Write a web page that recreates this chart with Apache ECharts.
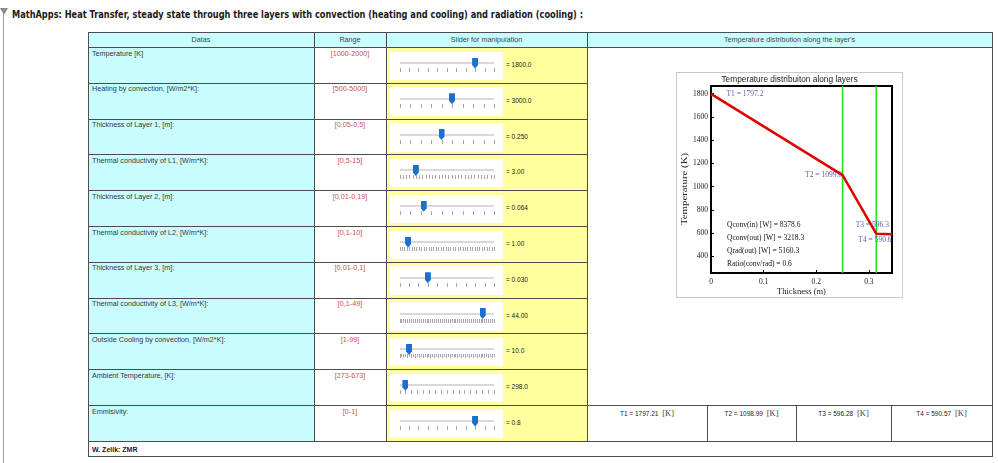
<!DOCTYPE html>
<html><head><meta charset="utf-8">
<script src="https://cdn.jsdelivr.net/npm/echarts@6/dist/echarts.min.js"></script>
<style>
html,body{margin:0;padding:0;}
body{width:998px;height:463px;overflow:hidden;background:#fff;position:relative;font-family:"Liberation Sans",Arial,sans-serif;}
.a{position:absolute;}
.t{position:absolute;white-space:nowrap;line-height:1;font-size:7px;color:#333;}
</style></head><body>
<div id="table" class="a" style="left:0;top:0;width:998px;height:463px"></div>
<div id="chartBox" class="a" style="left:676px;top:72px;width:227px;height:226px;border:1px solid #c8c8c8;box-sizing:border-box;background:#fff"></div>
<div id="chart" class="a" style="left:676px;top:72px;width:227px;height:226px"></div>
<script>
// ---------- data ----------
const pageTitle = "MathApps: Heat Transfer, steady state through three layers with convection (heating and cooling) and radiation (cooling) :";
const headers = ["Datas", "Range", "Slider for manipulation", "Temperature distribution along the layer's"];
const rowLabels = ["Temperature [K]", "Heating by convection, [W/m2*K]:", "Thickness of Layer 1, [m]:", "Thermal conductivity of L1, [W/m*K]:", "Thickness of Layer 2, [m]:", "Thermal conductivity of L2, [W/m*K]:", "Thickness of Layer 3, [m]:", "Thermal conductivity of L3, [W/m*K]:", "Outside Cooling by convection, [W/m2*K]:", "Ambient Temperature, [K]:", "Emmisivity:"];
const rowRanges = ["[1000-2000]", "[500-5000]", "[0.05-0,5]", "[0,5-15]", "[0,01-0,19]", "[0,1-10]", "[0,01-0,1]", "[0,1-49]", "[1-99]", "[273-673]", "[0-1]"];
const sliderMin = [1000, 500, 0.05, 0.5, 0, 0.1, 0, 0, 0, 273, 0];
const sliderMax = [2000, 5000, 0.5, 15, 0.25, 10, 0.1, 50, 99, 673, 1];
const sliderValue = [1800, 3000, 0.25, 3.0, 0.064, 1.0, 0.03, 44, 10, 298, 0.8];
const sliderText = ["= 1800.0", "= 3000.0", "= 0.250", "= 3.00", "= 0.064", "= 1.00", "= 0.030", "= 44.00", "= 10.0", "= 298.0", "= 0.8"];
const sliderTicks = [11, 10, 10, 30, 10, 40, 11, 50, 50, 17, 11];
const sliderMinorAlt = [false, false, false, false, false, false, false, false, true, false, false];
const resultText = ["T1 = 1797.21", "T2 = 1098.99", "T3 = 596.28", "T4 = 590.57"];
const footerText = "W. Zelik: ZMR";

const chartTitle = "Temperature distribuiton along layers";
const thickness = [0, 0.25, 0.314, 0.344];
const temps = [1797.2, 1099.0, 596.3, 590.6];
const layerBounds = [0.25, 0.314];
const pointLabels = ["T1 = 1797.2", "T2 = 1099.0", "T3 = 596.3", "T4 = 590.6"];
const xTicks = [0, 0.1, 0.2, 0.3];
const yTicks = [400, 600, 800, 1000, 1200, 1400, 1600, 1800];
const xMin = 0, xMax = 0.344, yMin = 258, yMax = 1865;
const qLines = ["Qconv(in) [W] = 8378.6", "Qconv(out) [W] = 3218.3", "Qrad(out) [W] = 5160.3", "Ratio(conv/rad) = 0.6"];

// ---------- table (HTML) ----------
const host = document.getElementById('table');
function div(x, y, w, h, css) {
  const d = document.createElement('div'); d.className = 'a';
  d.style.cssText = `left:${x}px;top:${y}px;width:${w}px;height:${h}px;` + (css || '');
  host.appendChild(d); return d;
}
function txt(x, y, s, css, anchor) {
  const d = document.createElement('div'); d.className = 't'; d.textContent = s;
  d.style.cssText += `left:${x}px;top:${y}px;` + (css || '');
  d.style.transform = anchor === 'c' ? 'translate(-50%,-50%)' : 'translateY(-50%)';
  host.appendChild(d); return d;
}
const L = 88, R = 992, T0 = 32, H0 = 47, RH = 35.8, N = rowLabels.length;
const RB = H0 + N * RH, FB = 456;
const cols = [88, 314, 386, 587, 992];
const rowTop = i => H0 + i * RH;
const lc = '#4d4d4d';

// left marker
div(2.5, 14, 1.5, 449, 'background:#a0a0a0');
div(0, 8, 0, 0, 'border-left:4px solid transparent;border-right:4px solid transparent;border-top:7px solid #8a8a8a;');
const tt = txt(12, 13.5, pageTitle, 'font-family:"DejaVu Sans",sans-serif;font-weight:bold;font-size:10.5px;color:#1a1a1a;');

// backgrounds
div(L, T0, R - L, H0 - T0, 'background:#c8fcff');
div(cols[0], H0, cols[1] - cols[0], RB - H0, 'background:#c8fcff');
div(cols[2], H0, cols[3] - cols[2], RB - H0, 'background:#ffff9e');

// lines
function hl(y, x1, x2) { div(x1, y, x2 - x1 + 1, 1, 'background:' + lc); }
function vl(x, y1, y2) { div(x, y1, 1, y2 - y1 + 1, 'background:' + lc); }
hl(T0, L, R); hl(H0, L, R);
for (let i = 1; i < N; i++) hl(rowTop(i), L, i === N - 1 ? R : cols[3]);
hl(RB, L, R); hl(FB, L, R);
vl(L, T0, FB); vl(R, T0, FB);
vl(cols[1], T0, RB); vl(cols[2], T0, RB); vl(cols[3], T0, RB);
const tCols = [587, 707, 796, 891, 992];
for (let k = 1; k < 4; k++) vl(tCols[k], rowTop(N - 1), RB);

// headers
const hc = [(cols[0] + cols[1]) / 2, (cols[1] + cols[2]) / 2, (cols[2] + cols[3]) / 2, (cols[3] + cols[4]) / 2];
headers.forEach((h, i) => txt(hc[i], 39.5, h, 'font-size:7.2px;color:#444;', 'c'));

// rows
const trackL = 399.5, trackR = 494;
for (let i = 0; i < N; i++) {
  const y = rowTop(i);
  txt(92, y + 6.5, rowLabels[i], 'font-size:7.2px;color:#383838;');
  txt(hc[1], y + 6.5, rowRanges[i], 'font-size:7.2px;color:#c85050;', 'c');
  div(390, y + 4.5, 113, 28.5, 'background:#fff');
  div(trackL, y + 15, trackR - trackL, 2, 'background:#d9d9d9');
  const n = sliderTicks[i];
  for (let k = 0; k < n; k++) {
    const x = trackL + k * (trackR - trackL) / (n - 1);
    const h = (sliderMinorAlt[i] && k % 2) ? 2.5 : 4;
    div(x, y + 21, 0.8, h, 'background:#a8a8a8');
  }
  const frac = (sliderValue[i] - sliderMin[i]) / (sliderMax[i] - sliderMin[i]);
  const cx = trackL + frac * (trackR - trackL);
  div(cx - 3, y + 10.5, 6, 11, 'background:#1b6fcf;clip-path:polygon(0 0,100% 0,100% 68%,50% 100%,0 68%);');
  txt(506, y + 18, sliderText[i], 'font-size:6.5px;color:#222;');
}
// results row
const yr = rowTop(N - 1);
resultText.forEach((s, k) => {
  const d = txt((tCols[k] + tCols[k + 1]) / 2, yr + 8, '', 'font-size:6.5px;color:#222;', 'c');
  const a = document.createElement('span'); a.textContent = s + ' ';
  const b = document.createElement('span'); b.textContent = '[K]'; b.style.cssText = 'font-size:8.5px;font-family:"Liberation Serif",serif;margin-left:2px;color:#444';
  d.appendChild(a); d.appendChild(b);
});
txt(92, (RB + FB) / 2 + 0.5, footerText, 'font-weight:bold;font-size:7px;color:#222;');

// fit title width
(function () {
  const w = tt.getBoundingClientRect().width;
  const target = 571;
  tt.style.transformOrigin = '0 50%';
  tt.style.transform = `translateY(-50%) scaleX(${target / w})`;
})();

// ---------- chart (ECharts) ----------
const serif = '"Liberation Serif", "Times New Roman", serif';
const chart = echarts.init(document.getElementById('chart'), null, { renderer: 'canvas' });
const labelCfg = [
  { position: 'right', distance: 15 },
  { position: 'left', distance: 0 },
  { position: [-20, -8], align: 'left', verticalAlign: 'middle' },
  { position: [0, 6], align: 'right', verticalAlign: 'middle' }
];
const option = {
  animation: false,
  title: {
    text: chartTitle, left: 'center', top: 4, padding: 0,
    textStyle: { fontFamily: '"Liberation Sans", sans-serif', fontSize: 8.3, fontWeight: 'normal', color: '#222' }
  },
  grid: {
    left: 35, top: 14, right: 11, bottom: 25, show: true, borderColor: '#000', borderWidth: 2,
    backgroundColor: 'transparent', containLabel: false, outerBoundsMode: 'none'
  },
  xAxis: {
    type: 'value', min: xMin, max: xMax,
    axisLine: { show: true, lineStyle: { color: '#000', width: 2 } },
    axisTick: { show: true, inside: true, length: 3, customValues: xTicks, lineStyle: { color: '#000' } },
    splitLine: { show: false },
    axisLabel: { customValues: xTicks, fontFamily: serif, fontSize: 7.5, color: '#222', margin: 5, formatter: v => v === 0 ? '0' : v.toFixed(1) },
    name: 'Thickness (m)', nameLocation: 'middle', nameGap: 14, nameMoveOverlap: false,
    nameTextStyle: { fontFamily: serif, fontSize: 8.5, color: '#222' }
  },
  yAxis: {
    type: 'value', min: yMin, max: yMax,
    axisLine: { show: true, lineStyle: { color: '#000', width: 2 } },
    axisTick: { show: true, inside: true, length: 3, customValues: yTicks, lineStyle: { color: '#000' } },
    splitLine: { show: false },
    axisLabel: { customValues: yTicks, fontFamily: serif, fontSize: 7.5, color: '#222', margin: 3, formatter: v => String(v) }
  },
  graphic: [
    {
      type: 'text', x: 9, y: 117, rotation: Math.PI / 2, scaleX: 1.35,
      style: { text: 'Temperature (K)', font: '8px ' + serif, fill: '#222', textAlign: 'center', textVerticalAlign: 'middle' }
    }
  ].concat(qLines.map((s, i) => ({
    type: 'text', x: 51, y: 153.5 + i * 13,
    style: { text: s, font: '7.5px ' + serif, fill: '#111', textAlign: 'left', textVerticalAlign: 'middle' }
  }))),
  series: layerBounds.map(b => ({
    type: 'line', data: [[b, yMin], [b, yMax]], symbol: 'none', silent: true, z: 2,
    lineStyle: { color: '#22dd22', width: 1.5 }
  })).concat([
    {
      type: 'line', data: thickness.map((x, i) => [x, temps[i]]), symbol: 'none', z: 5,
      lineStyle: { color: '#e00000', width: 2.5 }
    },
    {
      type: 'scatter', symbol: 'circle', symbolSize: 1, z: 6, silent: true,
      itemStyle: { color: 'rgba(0,0,0,0)' },
      label: { show: true, fontFamily: serif, fontSize: 7.5, color: '#33339a' },
      data: thickness.map((x, i) => ({
        value: [x, temps[i]],
        label: Object.assign({ show: true, formatter: pointLabels[i] }, labelCfg[i])
      }))
    }
  ])
};
chart.setOption(option);
</script>
</body></html>
